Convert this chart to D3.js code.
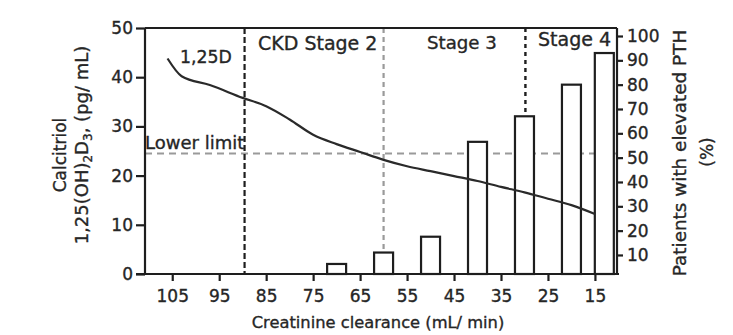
<!DOCTYPE html>
<html>
<head>
<meta charset="utf-8">
<script src="https://cdn.jsdelivr.net/npm/d3@7"></script>
<style>
  html, body { margin: 0; padding: 0; background: #ffffff; }
  svg { display: block; }
  text { font-family: "DejaVu Sans", sans-serif; fill: #262626; stroke: #262626; stroke-width: 0.35px; }
</style>
</head>
<body>
<svg id="chart" width="733" height="335"></svg>
<script>
// ---- data ----
const clearanceTicks = [105, 95, 85, 75, 65, 55, 45, 35, 25, 15];
const calcitriolTicks = [0, 10, 20, 30, 40, 50];
const pthTicks = [10, 20, 30, 40, 50, 60, 70, 80, 90, 100];

const curveClearance = [106, 103, 97, 90, 85, 80, 75, 70, 65, 60, 55, 50, 45, 40, 35, 30, 25, 20, 15];
const curveCalcitriol = [43.8, 40.2, 38.4, 35.8, 34.1, 31.4, 28.3, 26.4, 24.8, 23.2, 21.9, 20.9, 19.9, 18.9, 17.7, 16.6, 15.3, 14.0, 12.2];

const barClearance = [70, 60, 50, 40, 30, 20, 13];
const barPTH = [6.3, 11, 17.5, 56.5, 67, 80, 93];

const lowerLimit = 24.5;
const boundaryClearance = [89.6, 60, 29.8];
const stageLabels = ["CKD Stage 2", "Stage 3", "Stage 4"];

// ---- layout ----
const svg = d3.select("#chart");
const pL = 145, pR = 617, pT = 28, pB = 274;

const x = d3.scaleLinear().domain([110.8, 10.3]).range([pL, pR]);
const yL = d3.scaleLinear().domain([0, 50]).range([pB, pT]);
const yR = d3.scaleLinear().domain([0, 100]).range([279.3, 36]);
const barW = 19;
const ink = "#1e1e1e";

// lower limit dashed line
svg.append("line")
  .attr("x1", pL).attr("x2", pR)
  .attr("y1", yL(lowerLimit)).attr("y2", yL(lowerLimit))
  .attr("stroke", "#9a9a9a").attr("stroke-width", 2)
  .attr("stroke-dasharray", "7,5");

// stage boundaries
const bStyles = [
  {color: ink, dash: "6,3", w: 2.2, end: pB},
  {color: "#9a9a9a", dash: "5,4", w: 2.2, end: yR(barPTH[1])},
  {color: ink, dash: "4,4", w: 2.4, end: yR(barPTH[4])}
];
boundaryClearance.forEach((c, i) => {
  svg.append("line")
    .attr("x1", x(c)).attr("x2", x(c))
    .attr("y1", pT).attr("y2", bStyles[i].end)
    .attr("stroke", bStyles[i].color).attr("stroke-width", bStyles[i].w)
    .attr("stroke-dasharray", bStyles[i].dash);
});

// bars
svg.selectAll("rect.bar")
  .data(barClearance.map((c, i) => ({c, v: barPTH[i]})))
  .enter().append("rect").attr("class", "bar")
  .attr("x", d => x(d.c) - barW / 2)
  .attr("width", barW)
  .attr("y", d => yR(d.v))
  .attr("height", d => pB - yR(d.v))
  .attr("fill", "#fff").attr("stroke", ink).attr("stroke-width", 2.2);

// calcitriol curve
const line = d3.line()
  .x(d => x(d[0])).y(d => yL(d[1]))
  .curve(d3.curveMonotoneX);
svg.append("path")
  .datum(curveClearance.map((c, i) => [c, curveCalcitriol[i]]))
  .attr("d", line)
  .attr("fill", "none").attr("stroke", "#2a2a2a").attr("stroke-width", 2.2);

// frame
svg.append("line").attr("x1", pL).attr("x2", pR).attr("y1", pT).attr("y2", pT)
  .attr("stroke", ink).attr("stroke-width", 2.2);
svg.append("line").attr("x1", pR).attr("x2", pR).attr("y1", pT).attr("y2", pB)
  .attr("stroke", ink).attr("stroke-width", 2.2);

// axes
const gL = svg.append("g").attr("transform", `translate(${pL},0)`)
  .call(d3.axisLeft(yL).tickValues(calcitriolTicks).tickSize(9).tickSizeOuter(0).tickPadding(3));
const gB = svg.append("g").attr("transform", `translate(0,${pB})`)
  .call(d3.axisBottom(x).tickValues(clearanceTicks).tickSize(7).tickSizeOuter(0).tickPadding(9));
const gR = svg.append("g").attr("transform", `translate(${pR},0)`)
  .call(d3.axisRight(yR).tickValues(pthTicks).tickSize(6).tickSizeOuter(0).tickPadding(4));
gR.select(".domain").remove();
[gL, gB, gR].forEach(g => {
  g.selectAll("path, line").attr("stroke", ink).attr("stroke-width", 2.2);
  g.selectAll("text").style("font-size", "17px").attr("fill", "#262626")
    .style("font-family", "'DejaVu Sans', sans-serif");
});
gL.select(".domain").attr("d", `M0,${pT}V${pB}`);
gB.select(".domain").attr("d", `M${pL - 9},0H${pR + 2}`);

// axis titles
svg.append("text").attr("text-anchor", "middle")
  .attr("x", 378).attr("y", 328).style("font-size", "16.3px")
  .text("Creatinine clearance (mL/ min)");

svg.append("text").attr("text-anchor", "middle")
  .attr("transform", "translate(66,155) rotate(-90)").style("font-size", "17px")
  .text("Calcitriol");
const t2 = svg.append("text").attr("text-anchor", "middle")
  .attr("transform", "translate(88,145) rotate(-90)").style("font-size", "18px");
t2.append("tspan").text("1,25(OH)");
t2.append("tspan").attr("dy", 4).style("font-size", "12px").text("2");
t2.append("tspan").attr("dy", -4).text("D");
t2.append("tspan").attr("dy", 4).style("font-size", "12px").text("3");
t2.append("tspan").attr("dy", -4).text(", (pg/ mL)");

svg.append("text").attr("text-anchor", "middle")
  .attr("transform", "translate(686,153) rotate(-90)").style("font-size", "18.4px")
  .text("Patients with elevated PTH");
svg.append("text").attr("text-anchor", "middle")
  .attr("transform", "translate(713,152) rotate(-90)").style("font-size", "17px")
  .text("(%)");

// annotations
svg.append("text").attr("x", 180).attr("y", 63).style("font-size", "17.3px").text("1,25D");
svg.append("text").attr("x", pL).attr("y", 149).style("font-size", "18px").text("Lower limit");
const stageX = [258, 427, 538], stageY = [50, 49, 46], stageSize = [19, 18.2, 19];
stageLabels.forEach((s, i) => {
  svg.append("text").attr("x", stageX[i]).attr("y", stageY[i])
    .style("font-size", stageSize[i] + "px").text(s);
});
</script>
</body>
</html>
